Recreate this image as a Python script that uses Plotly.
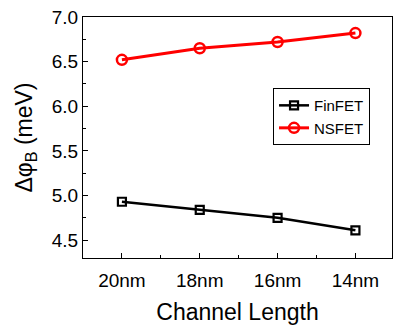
import plotly.graph_objects as go

categories = ["20nm", "18nm", "16nm", "14nm"]
finfet = [4.93, 4.84, 4.75, 4.61]
nsfet = [6.52, 6.65, 6.72, 6.82]

xpos = list(range(len(categories)))
font = "Liberation Sans, Arial, sans-serif"

fig = go.Figure()
fig.add_trace(go.Scatter(
    x=xpos, y=finfet, name="FinFET", mode="lines+markers",
    line=dict(color="black", width=2.5),
    marker=dict(symbol="square-open", size=8, color="black", line=dict(width=2.2)),
))
fig.add_trace(go.Scatter(
    x=xpos, y=nsfet, name="NSFET", mode="lines+markers",
    line=dict(color="#ff0000", width=3),
    marker=dict(symbol="circle-open", size=10, color="#ff0000", line=dict(width=2.5)),
))

fig.update_layout(
    width=393, height=327,
    margin=dict(l=83, r=1, t=17, b=69),
    plot_bgcolor="white", paper_bgcolor="white",
    font=dict(family=font, color="black"),
    showlegend=True,
    legend=dict(
        x=0.615, y=0.705, xanchor="left", yanchor="top",
        bordercolor="black", borderwidth=1, bgcolor="white",
        font=dict(size=15, family=font), tracegroupgap=0,
        itemwidth=30,
    ),
    xaxis=dict(
        range=[-0.5, 3.47], tickmode="array", tickvals=xpos, ticktext=categories,
        ticks="inside", ticklen=5, tickcolor="black",
        minor=dict(tickvals=[0.5, 1.5, 2.5], ticks="inside", ticklen=3, tickcolor="black"),
        showline=True, linecolor="black", linewidth=1, mirror=True,
        showgrid=False, zeroline=False,
        tickfont=dict(size=19), ticklabelstandoff=5,
        title=dict(text="Channel Length", font=dict(size=23), standoff=14),
    ),
    yaxis=dict(
        range=[4.3, 7.0], tickmode="array", tickvals=[4.5, 5.0, 5.5, 6.0, 6.5, 7.0],
        ticktext=["4.5", "5.0", "5.5", "6.0", "6.5", "7.0"],
        ticks="inside", ticklen=5, tickcolor="black",
        minor=dict(tickvals=[4.75, 5.25, 5.75, 6.25, 6.75], ticks="inside", ticklen=3, tickcolor="black"),
        showline=True, linecolor="black", linewidth=1, mirror=True,
        showgrid=False, zeroline=False,
        tickfont=dict(size=19),
        title=dict(text="Δφ<sub>B</sub> (meV)", font=dict(size=23), standoff=12),
    ),
)

fig.write_html("out.html")
